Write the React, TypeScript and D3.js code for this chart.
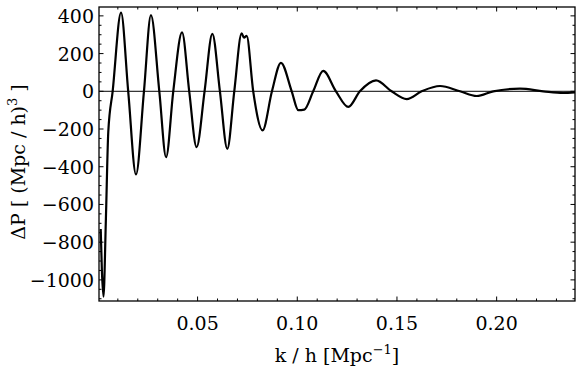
import * as d3 from "d3";

// k / h [Mpc^-1] and ΔP values
const kValues = [
  0.0014, 0.002, 0.0028, 0.004, 0.0052, 0.0074, 0.0116, 0.0152, 0.0191, 0.0231,
  0.0266, 0.0308, 0.0342, 0.0378, 0.0422, 0.0458, 0.0495, 0.0535, 0.0574, 0.0612,
  0.0649, 0.0684, 0.0721, 0.0733, 0.0746, 0.0779, 0.0826, 0.0873, 0.0918, 0.0972,
  0.1005, 0.1035, 0.108, 0.113, 0.1194, 0.1256, 0.1314, 0.1395, 0.1473, 0.1549,
  0.1624, 0.1716, 0.1816, 0.19, 0.1983, 0.2117, 0.2234, 0.2333, 0.2393,
];
const dP = [
  -730, -950, -1089, -680, -216, 0, 417, 0, -441, 0,
  404, 0, -349, 0, 312, 0, -296, 0, 305, 0,
  -305, 0, 307, 284, 294, 0, -207, 0, 151, 0,
  -100, -97, 0, 108, 0, -83, 0, 58, 0, -41,
  0, 28, 0, -25, 0, 14, 0, -9, -6,
];

const xMajor = [0.05, 0.1, 0.15, 0.2];
const xMajorLabels = ["0.05", "0.10", "0.15", "0.20"];
const xMinor = d3.range(1, 24).map((i) => i / 100).filter((v) => Math.round(v * 100) % 5 !== 0);
const yMajor = [-1000, -800, -600, -400, -200, 0, 200, 400];
const yMajorLabels = ["\u22121000", "\u2212800", "\u2212600", "\u2212400", "\u2212200", "0", "200", "400"];
const yMinor = d3.range(-1100, 401, 50).filter((v) => v % 200 !== 0);

export default function App() {
  const width = 576;
  const height = 373;
  const left = 99;
  const right = 575;
  const top = 7;
  const bottom = 301;
  const font =
    "'DejaVu Serif', 'Liberation Serif', 'Noto Serif', 'Times New Roman', Times, serif";

  const x = d3.scaleLinear([0.00055, 0.2393], [left, right]);
  const y = d3.scaleLinear([-1112, 447], [bottom, top]);
  const data = kValues.map((k, i) => [k, dP[i]] as [number, number]);
  const line = d3
    .line<[number, number]>()
    .x((d) => x(d[0]))
    .y((d) => y(d[1]))
    .curve(d3.curveMonotoneX);

  const major = 4.5;
  const minor = 2.5;

  return (
    <svg
      width={width}
      height={height}
      style={{ position: "absolute", left: 0, top: 0, background: "#fff" }}
    >
      <defs>
        <clipPath id="plot">
          <rect x={left} y={top} width={right - left} height={bottom - top} />
        </clipPath>
      </defs>
      <line x1={left} x2={right} y1={y(0)} y2={y(0)} stroke="#000" strokeWidth={1} />
      <path
        d={line(data) ?? ""}
        fill="none"
        stroke="#000"
        strokeWidth={2.2}
        strokeLinejoin="round"
        clipPath="url(#plot)"
      />
      <g stroke="#000" strokeWidth={1}>
        {xMajor.map((v) => (
          <g key={"xM" + v}>
            <line x1={x(v)} x2={x(v)} y1={bottom} y2={bottom - major} />
            <line x1={x(v)} x2={x(v)} y1={top} y2={top + major} />
          </g>
        ))}
        {xMinor.map((v) => (
          <g key={"xm" + v}>
            <line x1={x(v)} x2={x(v)} y1={bottom} y2={bottom - minor} />
            <line x1={x(v)} x2={x(v)} y1={top} y2={top + minor} />
          </g>
        ))}
        {yMajor.map((v) => (
          <g key={"yM" + v}>
            <line x1={left} x2={left + major} y1={y(v)} y2={y(v)} />
            <line x1={right} x2={right - major} y1={y(v)} y2={y(v)} />
          </g>
        ))}
        {yMinor.map((v) => (
          <g key={"ym" + v}>
            <line x1={left} x2={left + minor} y1={y(v)} y2={y(v)} />
            <line x1={right} x2={right - minor} y1={y(v)} y2={y(v)} />
          </g>
        ))}
      </g>
      <rect
        x={left}
        y={top}
        width={right - left}
        height={bottom - top}
        fill="none"
        stroke="#000"
        strokeWidth={1.3}
      />
      <g fontFamily={font} fontSize={19} fill="#000">
        {xMajor.map((v, i) => (
          <text key={"xl" + v} x={x(v)} y={330} textAnchor="middle">
            {xMajorLabels[i]}
          </text>
        ))}
        {yMajor.map((v, i) => (
          <text key={"yl" + v} x={94} y={y(v) + 7} textAnchor="end">
            {yMajorLabels[i]}
          </text>
        ))}
        <text x={(left + right) / 2} y={362} textAnchor="middle">
          k / h [Mpc
          <tspan dy={-8} fontSize={13}>
            {"\u22121"}
          </tspan>
          <tspan dy={8}>]</tspan>
        </text>
        <text transform="translate(25,162) rotate(-90)" textAnchor="middle">
          ΔP [ (Mpc / h)
          <tspan dy={-8} fontSize={13}>
            3
          </tspan>
          <tspan dy={8}> ]</tspan>
        </text>
      </g>
    </svg>
  );
}
